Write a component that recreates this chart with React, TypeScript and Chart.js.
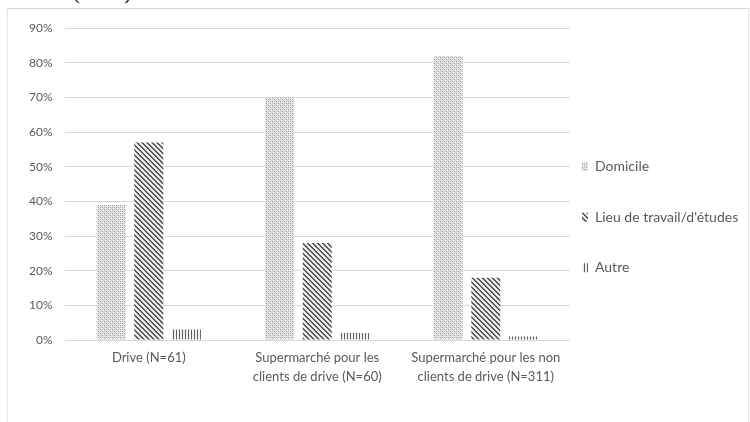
import React, { useEffect, useRef } from "react";
import { Chart, registerables } from "chart.js";

Chart.register(...registerables);

const categories: string[][] = [
  ["Drive (N=61)"],
  ["Supermarché pour les", "clients de drive (N=60)"],
  ["Supermarché pour les non", "clients de drive (N=311)"],
];
const seriesNames = ["Domicile", "Lieu de travail/d'études", "Autre"];
const domicile = [39, 70, 82];
const lieu = [57, 28, 18];
const autre = [3, 2, 1];
const yTicks = [0, 10, 20, 30, 40, 50, 60, 70, 80, 90];

function makePattern(kind: string): CanvasPattern | string {
  const c = document.createElement("canvas");
  const ctx = c.getContext("2d")!;
  if (kind === "dots") {
    c.width = 4;
    c.height = 4;
    ctx.fillStyle = "#ececec";
    ctx.fillRect(0, 0, 4, 4);
    ctx.fillStyle = "#8f8f8f";
    ctx.fillRect(0, 0, 1, 1);
    ctx.fillRect(2, 2, 1, 1);
    ctx.fillStyle = "#b4b4b4";
    ctx.fillRect(0, 2, 1, 1);
    ctx.fillRect(2, 0, 1, 1);
    ctx.fillStyle = "#d0d0d0";
    ctx.fillRect(1, 1, 1, 1);
    ctx.fillRect(3, 3, 1, 1);
  } else if (kind === "diag") {
    c.width = 5;
    c.height = 5;
    ctx.fillStyle = "#e8e8e8";
    ctx.fillRect(0, 0, 5, 5);
    ctx.fillStyle = "#555555";
    for (let y = 0; y < 5; y++) {
      ctx.fillRect(y % 5, y, 1, 1);
      ctx.fillRect((y + 1) % 5, y, 1, 1);
    }
  } else {
    c.width = 3;
    c.height = 3;
    ctx.fillStyle = "#f0f0f0";
    ctx.fillRect(0, 0, 3, 3);
    ctx.fillStyle = "#5f5f5f";
    ctx.fillRect(0, 0, 1, 3);
  }
  const p = ctx.createPattern(c, "repeat");
  return p || "#999";
}

export default function App() {
  const ref = useRef<HTMLCanvasElement | null>(null);

  useEffect(() => {
    if (!ref.current) return;
    const font = "Lato, 'Open Sans', sans-serif";
    const chart = new Chart(ref.current, {
      type: "bar",
      data: {
        labels: categories,
        datasets: [
          { label: seriesNames[0], data: domicile, backgroundColor: makePattern("dots") as any, borderWidth: 0 },
          { label: seriesNames[1], data: lieu, backgroundColor: makePattern("diag") as any, borderWidth: 0 },
          { label: seriesNames[2], data: autre, backgroundColor: makePattern("vert") as any, borderWidth: 0 },
        ],
      },
      options: {
        animation: false,
        responsive: false,
        maintainAspectRatio: false,
        datasets: { bar: { categoryPercentage: 0.67, barPercentage: 0.77 } },
        layout: { padding: { left: 9, top: 15, bottom: 35, right: 0 } },
        scales: {
          x: {
            grid: { display: false },
            border: { display: false },
            ticks: {
              color: "#595959",
              font: { family: font, size: 13, lineHeight: 1.5 },
              padding: 0,
              maxRotation: 0,
              autoSkip: false,
            },
          },
          y: {
            min: 0,
            max: 90,
            afterBuildTicks: (axis: any) => {
              axis.ticks = yTicks.map((v) => ({ value: v }));
            },
            ticks: {
              color: "#595959",
              font: { family: font, size: 12 },
              padding: 12,
              callback: (v: any) => `${v}%`,
            },
            grid: { color: "#d9d9d9", lineWidth: 1, drawTicks: false },
            border: { display: false },
          },
        },
        plugins: {
          tooltip: { enabled: false },
          title: { display: false },
          legend: {
            position: "right",
            align: "center",
            maxWidth: 178,
            title: {
              display: true,
              text: " ",
              font: { size: 1, lineHeight: "1px" as any },
              padding: { top: 47, bottom: 0 },
            },
            labels: {
              color: "#595959",
              font: { family: font, size: 14, lineHeight: "38.5px" as any },
              boxWidth: 6,
              boxHeight: 9,
              padding: 12,
              generateLabels: (ch: any) => {
                const items = Chart.defaults.plugins.legend.labels.generateLabels(ch);
                return items.map((it: any) => ({ ...it, text: [it.text], lineWidth: 0 }));
              },
            },
          },
        },
      } as any,
    });
    return () => chart.destroy();
  }, []);

  return (
    <div style={{ position: "fixed", left: 0, top: 0, width: 750, height: 422, overflow: "hidden", background: "#fff" }}>
      <div
        style={{
          position: "absolute",
          right: 613,
          top: -19,
          whiteSpace: "nowrap",
          fontFamily: "'Liberation Serif', 'DejaVu Serif', serif",
          fontSize: 22,
          lineHeight: "22px",
          color: "#111",
        }}
      >
        Bernaud (2016).
      </div>
      <div
        style={{
          position: "absolute",
          left: 7,
          top: 8,
          width: 740,
          height: 420,
          borderTop: "1px solid #d6d6d6",
          borderLeft: "1px solid #e6e6e6",
          borderRight: "1px solid #e6e6e6",
          background: "#fff",
        }}
      >
        <canvas ref={ref} width={740} height={413} style={{ display: "block" }} />
      </div>
    </div>
  );
}
